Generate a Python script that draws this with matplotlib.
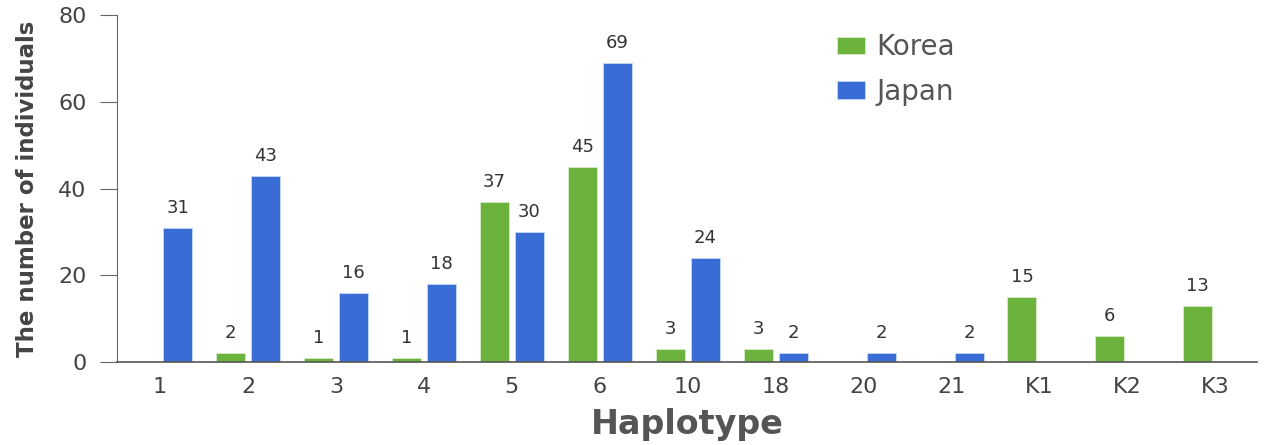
import numpy as np
import matplotlib
matplotlib.use("Agg")
import matplotlib.pyplot as plt

# Data
haplotypes = ['1', '2', '3', '4', '5', '6', '10', '18', '20', '21', 'K1', 'K2', 'K3']
korea = [0, 2, 1, 1, 37, 45, 3, 3, 0, 0, 15, 6, 13]
japan = [31, 43, 16, 18, 30, 69, 24, 2, 2, 2, 0, 0, 0]

green = '#6cb33e'
blue = '#3a6cd6'
gray = '#444444'

fig = plt.figure(figsize=(12.65, 4.45), dpi=100)
ax = fig.add_axes([0.0925, 0.1865, 0.901, 0.7795])

x = np.arange(len(haplotypes))
w = 0.33
off = 0.2

ax.bar(x - off, korea, w, color=green, edgecolor='#d8ecc8', linewidth=0.6, label='Korea')
ax.bar(x + off, japan, w, color=blue, edgecolor='#c8d8f4', linewidth=0.6, label='Japan')

# value labels (only where a bar exists)
for xi, v in zip(x, korea):
    if v > 0:
        ax.text(xi - off, v + 2.5, str(v), ha='center', va='bottom', fontsize=13, color='#333333')
for xi, v in zip(x, japan):
    if v > 0:
        ax.text(xi + off, v + 2.5, str(v), ha='center', va='bottom', fontsize=13, color='#333333')

ax.set_xlim(-0.49, len(haplotypes) - 0.53)
ax.set_ylim(0, 80)
ax.set_yticks([0, 20, 40, 60, 80])
ax.set_xticks(x)
ax.set_xticklabels(haplotypes)

for s in ['top', 'right']:
    ax.spines[s].set_visible(False)
ax.spines['left'].set_color('#666666')
ax.spines['bottom'].set_color('#555555')
ax.spines['bottom'].set_linewidth(1.2)

ax.tick_params(axis='y', direction='out', length=12, color='#666666', labelsize=16, labelcolor=gray, pad=10)
ax.tick_params(axis='x', length=0, labelsize=16, labelcolor=gray, pad=11)

ax.set_xlabel('Haplotype', fontsize=24, fontweight='bold', color='#555555', labelpad=8)
ax.set_ylabel('The number of individuals', fontsize=16.5, fontweight='bold', color='#444444',
              labelpad=14)

ax.legend(loc='upper left', bbox_to_anchor=(0.61, 1.02), frameon=False, fontsize=20,
          handlelength=1.0, handleheight=0.6, handletextpad=0.4, labelspacing=0.6,
          labelcolor='#555555')

fig.savefig('out.png', dpi=100)
